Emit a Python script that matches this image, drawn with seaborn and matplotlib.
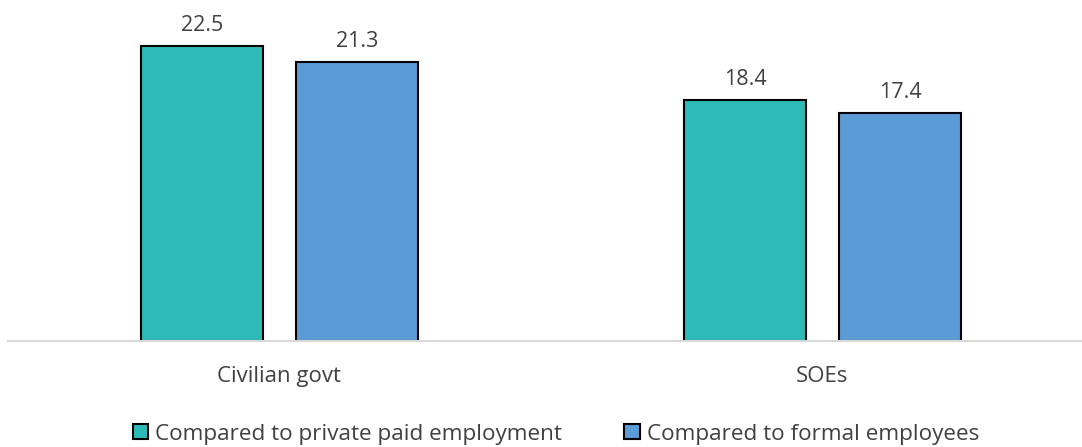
import matplotlib
matplotlib.use("Agg")
import matplotlib.pyplot as plt
import seaborn as sns
import pandas as pd

categories = ["Civilian govt", "SOEs"]
series_names = ["Compared to private paid employment", "Compared to formal employees"]
private_paid = [22.5, 18.4]
formal_emp = [21.3, 17.4]
colors = ["#2EBAB6", "#5B9BD6"]

df = pd.DataFrame({
    "category": categories * 2,
    "series": [series_names[0]] * 2 + [series_names[1]] * 2,
    "value": private_paid + formal_emp,
})

sns.set_theme(style="white")
plt.rcParams["font.family"] = ["Open Sans", "DejaVu Sans"]

fig = plt.figure(figsize=(10.82, 4.47), dpi=100)
ax = fig.add_axes([8 / 1082, 1 - 341 / 447, 1074 / 1082, 328 / 447])

sns.barplot(data=df, x="category", y="value", hue="series", order=categories,
            hue_order=series_names, palette=colors, saturation=1, width=0.571, gap=0.213,
            edgecolor="black", linewidth=1.5, ax=ax, legend=True)

for cont in ax.containers:
    ax.bar_label(cont, fmt="%.1f", padding=7, fontsize=15.5, color="#404040")

ax.set_ylim(0, 25)
ax.set_xlim(-0.5, 1.478)
ax.set_xlabel("")
ax.set_ylabel("")
ax.set_yticks([])
for s in ["left", "right", "top"]:
    ax.spines[s].set_visible(False)
ax.spines["bottom"].set_color("#D9D9D9")
ax.spines["bottom"].set_linewidth(1.5)
ax.tick_params(axis="x", length=0, pad=18, labelsize=16, labelcolor="#404040")

handles, labels = ax.get_legend_handles_labels()
ax.legend(handles, labels, loc="center", bbox_to_anchor=(0.510, -0.284),
          ncol=2, frameon=False, fontsize=16.2, handlelength=0.68, handleheight=0.68,
          handletextpad=0.3, columnspacing=2.8, labelcolor="#404040",
          borderpad=0, borderaxespad=0)

fig.savefig("out.png", dpi=100)
